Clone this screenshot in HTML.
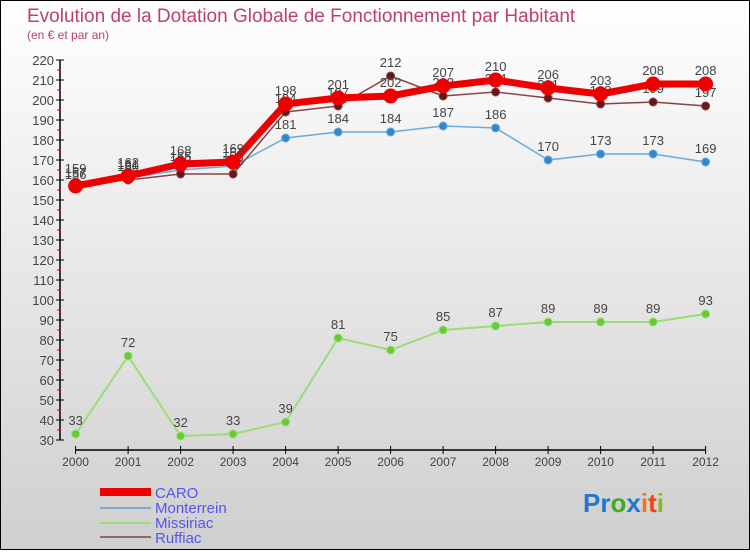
<!DOCTYPE html>
<html><head><meta charset="utf-8"><style>
html,body{margin:0;padding:0}
body{width:750px;height:550px;overflow:hidden;font-family:"Liberation Sans",sans-serif}
</style></head><body>
<svg id="chart" width="750" height="550" xmlns="http://www.w3.org/2000/svg" font-family="Liberation Sans, sans-serif">
<defs><linearGradient id="bg" x1="0" y1="0" x2="0" y2="1"><stop offset="0" stop-color="#ffffff"/><stop offset="1" stop-color="#cfcfcf"/></linearGradient></defs>
<rect x="0.5" y="0.5" width="749" height="549" fill="url(#bg)" stroke="#000"/>
<text x="27" y="22" font-size="19" fill="#c0406a">Evolution de la Dotation Globale de Fonctionnement par Habitant</text>
<text x="27" y="39" font-size="12" fill="#c0406a">(en € et par an)</text>
<g id="axes"></g>
<g id="series"></g>
<g>
<rect x="100" y="488" width="51" height="8" fill="#ee0000"/>
<text x="155" y="498" font-size="15" fill="#5555ee">CARO</text>
<rect x="100" y="507" width="51" height="2" fill="#7aaed6"/>
<text x="155" y="513" font-size="15" fill="#5555ee">Monterrein</text>
<rect x="100" y="522" width="51" height="2" fill="#99dd77"/>
<text x="155" y="528" font-size="15" fill="#5555ee">Missiriac</text>
<rect x="100" y="536" width="51" height="2" fill="#996666"/>
<text x="155" y="543" font-size="15" fill="#5555ee">Ruffiac</text>
</g>
<text x="583" y="512" font-size="26" font-weight="bold"><tspan fill="#2277cc">Pr</tspan><tspan fill="#44aa22">o</tspan><tspan fill="#2277cc">x</tspan><tspan fill="#ee7722">i</tspan><tspan fill="#ee4411">t</tspan><tspan fill="#88bb22">i</tspan></text>
</svg>
<script>
const years=["2000","2001","2002","2003","2004","2005","2006","2007","2008","2009","2010","2011","2012"];
const caro=[157,162,168,169,198,201,202,207,210,206,203,208,208];
const monterrein=[156,161,165,167,181,184,184,187,186,170,173,173,169];
const missiriac=[33,72,32,33,39,81,75,85,87,89,89,89,93];
const ruffiac=[159,160,163,163,194,197,212,202,204,201,198,199,197];
const yTicks=[30,40,50,60,70,80,90,100,110,120,130,140,150,160,170,180,190,200,210,220];
const NS="http://www.w3.org/2000/svg";
function X(i){return 75.6+i*52.5;}
function Y(v){return 440-(v-30)*2;}
function mk(t,a,p){const e=document.createElementNS(NS,t);for(const k in a)e.setAttribute(k,a[k]);p.appendChild(e);return e;}
const ax=document.getElementById('axes');
const yl=mk('line',{x1:60,y1:Y(220),x2:60,y2:Y(30),stroke:'#000','stroke-width':1.5},ax);


yTicks.forEach(v=>{
 mk('line',{x1:56,y1:Y(v),x2:64,y2:Y(v),stroke:'#000'},ax);
 if(v<220) mk('line',{x1:57,y1:Y(v+5),x2:61,y2:Y(v+5),stroke:'#e00'},ax);
 const t=mk('text',{x:54,y:Y(v)+5,'font-size':13,fill:'#444','text-anchor':'end'},ax);t.textContent=v;
 
 
});
const xl=mk('line',{x1:X(0),y1:450,x2:X(12),y2:450,stroke:'#000','stroke-width':1.5},ax);


years.forEach((y,i)=>{
 mk('line',{x1:X(i),y1:446,x2:X(i),y2:454,stroke:'#000'},ax);
 const t=mk('text',{x:X(i),y:466,'font-size':12,fill:'#444','text-anchor':'middle'},ax);t.textContent=y;
 
 
});
const sg=document.getElementById('series');
function series(name,data,col,w,r,dot){
 const g=mk('g',{},sg);
 
 
 mk('polyline',{points:data.map((v,i)=>X(i)+','+Y(v)).join(' '),fill:'none',stroke:col,'stroke-width':w,'stroke-linejoin':'round'},g);
 data.forEach((v,i)=>{
  const c=mk('circle',{cx:X(i),cy:Y(v),r:r,fill:dot,stroke:col,'stroke-width':1},g);
  
  
  const t=mk('text',{x:X(i),y:Y(v)-9,'font-size':13,fill:'#444','text-anchor':'middle'},g);t.textContent=v;
 });
}
series('missiriac',missiriac,'#99dd77',2,4,'#66cc33');
series('monterrein',monterrein,'#6aaadd',1.5,4,'#3388cc');
series('ruffiac',ruffiac,'#884444',1.5,4,'#661818');
series('caro',caro,'#ee0000',7,7,'#ee0000');
</script>
</body></html>
